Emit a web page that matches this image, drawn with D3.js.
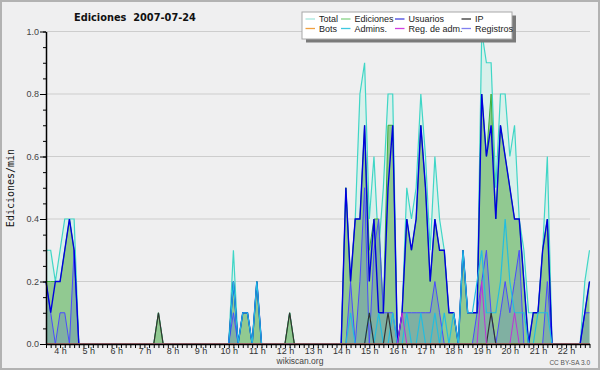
<!DOCTYPE html>
<html>
<head>
<meta charset="utf-8">
<script src="https://d3js.org/d3.v7.min.js"></script>
<style>
  body { margin: 0; background: #efeff0; }
  svg { display: block; }
</style>
</head>
<body>
<div id="chart"></div>
<script>
// Edits per minute in 10 minute bins, first bin at 3:30.
var hourLabels = ["4 h","5 h","6 h","7 h","8 h","9 h","10 h","11 h","12 h","13 h","14 h","15 h","16 h","17 h","18 h","19 h","20 h","21 h","22 h"];
var firstHourBin = 3;
var binsPerHour = 6;

var total = [
  .3,.3,.2,.3,.4,.4,.4,0,0,0,0,0,
  0,0,0,0,0,0,0,0,0,0,0,0,
  .1,0,0,0,0,0,0,0,0,0,0,0,
  0,0,0,0,.3,0,.1,.1,0,.2,0,0,
  0,0,0,0,.1,0,0,0,0,0,0,0,
  0,0,0,0,.5,.2,.4,.8,.9,.4,.6,.3,
  .5,.8,.8,0,.1,.5,.4,.5,.8,.6,.3,.6,
  .4,.3,.1,.1,0,.3,.1,.1,.1,1,.9,.9,
  .5,.8,.8,.6,.7,.4,.3,.1,.1,.1,.3,.6,
  0,0,0,0,0,0,0,.2,.3];
var ediciones = [
  .2,.2,.2,.2,.3,.4,.3,0,0,0,0,0,
  0,0,0,0,0,0,0,0,0,0,0,0,
  .1,0,0,0,0,0,0,0,0,0,0,0,
  0,0,0,0,.2,0,.1,.1,0,.2,0,0,
  0,0,0,0,.1,0,0,0,0,0,0,0,
  0,0,0,0,.5,.2,.4,.4,.7,.3,.4,.4,
  .1,.7,.7,0,.1,.4,.3,.4,.7,.5,.2,.4,
  .3,.3,.1,.1,0,.3,.1,.1,.1,.8,.6,.8,
  .4,.7,.6,.5,.4,.4,.2,0,.1,.1,.3,.4,
  0,0,0,0,0,0,0,.1,.2];
var usuarios = [
  .2,.1,.2,.2,.3,.4,.3,0,0,0,0,0,
  0,0,0,0,0,0,0,0,0,0,0,0,
  0,0,0,0,0,0,0,0,0,0,0,0,
  0,0,0,0,.2,0,.1,.1,0,.2,0,0,
  0,0,0,0,0,0,0,0,0,0,0,0,
  0,0,0,0,.5,.2,.4,.4,.7,.2,.4,.1,
  .1,.5,.7,0,.1,.4,.3,.4,.7,.5,.2,.4,
  .3,.3,.1,.1,0,.3,.1,.1,.1,.8,.6,.7,
  .4,.7,.6,.5,.4,.4,.2,0,.1,.1,.3,.4,
  0,0,0,0,0,0,0,.1,.2];
var ip = [
  0,0,0,0,0,0,0,0,0,0,0,0,
  0,0,0,0,0,0,0,0,0,0,0,0,
  .1,0,0,0,0,0,0,0,0,0,0,0,
  0,0,0,0,0,0,0,0,0,0,0,0,
  0,0,0,0,.1,0,0,0,0,0,0,0,
  0,0,0,0,0,0,0,0,0,.1,0,0,
  0,.1,0,0,0,0,0,0,0,0,0,0,
  0,0,0,0,0,0,0,0,0,0,0,.1,
  0,0,0,0,0,0,0,0,0,0,0,0,
  0,0,0,0,0,0,0,0,0];
var bots = [
  0,0,0,0,0,0,0,0,0,0,0,0,
  0,0,0,0,0,0,0,0,0,0,0,0,
  0,0,0,0,0,0,0,0,0,0,0,0,
  0,0,0,0,0,0,0,0,0,0,0,0,
  0,0,0,0,0,0,0,0,0,0,0,0,
  0,0,0,0,0,0,0,0,0,0,0,0,
  0,0,0,0,0,0,0,0,0,0,0,0,
  0,0,0,0,0,0,0,0,0,0,0,0,
  0,0,0,0,0,0,0,0,0,0,0,0,
  0,0,0,0,0,0,0,0,0];
var admins = [
  0,0,0,0,0,0,0,0,0,0,0,0,
  0,0,0,0,0,0,0,0,0,0,0,0,
  0,0,0,0,0,0,0,0,0,0,0,0,
  0,0,0,0,.2,0,.1,.1,0,.2,0,0,
  0,0,0,0,0,0,0,0,0,0,0,0,
  0,0,0,0,0,.1,0,0,0,.1,0,.1,
  0,0,.1,0,0,.1,0,0,.1,0,0,.1,
  0,.1,0,.1,0,.3,.1,.1,.2,.3,.1,.1,
  .1,.2,.4,.2,.1,.1,.1,0,0,.1,.1,.1,
  0,0,0,0,0,0,0,0,0];
var regAdm = [
  0,0,0,0,0,0,0,0,0,0,0,0,
  0,0,0,0,0,0,0,0,0,0,0,0,
  0,0,0,0,0,0,0,0,0,0,0,0,
  0,0,0,0,0,0,0,0,0,0,0,0,
  0,0,0,0,0,0,0,0,0,0,0,0,
  0,0,0,0,0,0,0,0,0,0,0,0,
  0,0,0,0,.1,0,0,0,0,0,0,0,
  0,0,0,0,0,0,0,0,0,.2,0,0,
  0,0,0,0,.1,0,0,0,0,0,0,0,
  0,0,0,0,0,0,0,0,0];
var registros = [
  .2,.1,0,.1,.1,0,.3,0,0,0,0,0,
  0,0,0,0,0,0,0,0,0,0,0,0,
  0,0,0,0,0,0,0,0,0,0,0,0,
  0,0,0,0,.1,0,0,0,0,0,0,0,
  0,0,0,0,0,0,0,0,0,0,0,0,
  0,0,0,0,0,.2,0,.2,.5,0,.3,.4,
  .1,.1,.1,0,.1,.1,.1,.1,.1,.1,.1,.2,
  .1,0,0,0,0,0,0,0,.1,.2,.3,.1,
  0,.1,.2,.1,.2,.3,0,0,0,0,0,.2,
  0,0,0,0,0,0,0,.1,.1];

var legendNames = ["Total","Ediciones","Usuarios","IP","Bots","Admins.","Reg. de adm.","Registros"];
var legendColors = ["#a6e6de","#86d286","#4545e0","#333333","#f0a040","#40c8e0","#d040e0","#8080f0"];
var yTicks = [0, 0.2, 0.4, 0.6, 0.8, 1.0];

// Set up the width and height of the chart.
var svgWidth = 600;
var svgHeight = 370;
var margin = {top: 31.5, right: 10.5, bottom: 26, left: 46};
var chartWidth = svgWidth - margin.left - margin.right;
var chartHeight = svgHeight - margin.top - margin.bottom;

var svg = d3.select("#chart").append("svg").attr("width", svgWidth).attr("height", svgHeight);
svg.append("rect").attr("x", 1).attr("y", 1).attr("width", svgWidth - 2).attr("height", svgHeight - 2)
  .attr("fill", "#efeff0").attr("stroke", "#b2b2b2").attr("stroke-width", 2);

var chartGroup = svg.append("g").attr("transform", `translate(${margin.left},${margin.top})`);

var xScale = d3.scaleLinear().domain([0, total.length - 1]).range([0, chartWidth]);
var yScale = d3.scaleLinear().domain([0, 1]).range([chartHeight, 0]);

// Horizontal grid lines.
chartGroup.selectAll(".grid").data(yTicks.filter(d => d > 0)).enter().append("line")
  .attr("x1", 0).attr("x2", chartWidth + 0.5)
  .attr("y1", d => yScale(d)).attr("y2", d => yScale(d))
  .attr("stroke", "#cdcdcd").attr("stroke-width", 1);

var area = d3.area().x((d, i) => xScale(i)).y0(yScale(0)).y1(d => yScale(d));
var line = d3.line().x((d, i) => xScale(i)).y(d => yScale(d));

// Filled series first, then the lines on top.
chartGroup.append("path").datum(total).attr("d", area).attr("fill", "#d9f0eb");
chartGroup.append("path").datum(total).attr("d", line).attr("fill", "none").attr("stroke", "#3fd6c6").attr("stroke-width", 1.2);
chartGroup.append("path").datum(ediciones).attr("d", area).attr("fill", "#91c991");
chartGroup.append("path").datum(registros).attr("d", area).attr("fill", "rgba(60,80,230,0.2)");
chartGroup.append("path").datum(ediciones).attr("d", line).attr("fill", "none").attr("stroke", "#3caf3c").attr("stroke-width", 1);
chartGroup.append("path").datum(registros).attr("d", line).attr("fill", "none").attr("stroke", "#4a4aff").attr("stroke-width", 1);
chartGroup.append("path").datum(usuarios).attr("d", line).attr("fill", "none").attr("stroke", "#0000e0").attr("stroke-width", 1.4);
chartGroup.append("path").datum(admins).attr("d", line).attr("fill", "none").attr("stroke", "#22bde0").attr("stroke-width", 1.2);
chartGroup.append("path").datum(ip).attr("d", line).attr("fill", "none").attr("stroke", "#333333").attr("stroke-width", 1.2);
chartGroup.append("path").datum(regAdm).attr("d", line).attr("fill", "none").attr("stroke", "#c030d8").attr("stroke-width", 1);
chartGroup.append("path").datum(bots).attr("d", line).attr("fill", "none").attr("stroke", "#f0a040").attr("stroke-width", 1);

// Left axis with major and minor ticks.
var minorAxis = d3.axisLeft(yScale).tickValues(d3.range(0, 1.001, 0.05)).tickSize(3).tickSizeOuter(0).tickFormat("");
chartGroup.append("g").call(minorAxis).call(g => g.select(".domain").remove())
  .selectAll("line").attr("stroke", "#000");
var leftAxis = d3.axisLeft(yScale).tickValues(yTicks).tickSize(6).tickSizeOuter(0).tickPadding(1).tickFormat(d3.format(".1f"));
var yAxis = chartGroup.append("g").call(leftAxis);
yAxis.select(".domain").attr("stroke", "#000").attr("stroke-width", 1.5);
yAxis.selectAll("text").attr("font-family", "Liberation Sans, Arial, sans-serif").attr("font-size", "9px").attr("fill", "#444");

// Bottom axis: one tick per bin, labels on the hours.
var bottomAxis = d3.axisBottom(xScale).tickValues(d3.range(0, total.length)).tickSize(4).tickSizeOuter(0).tickPadding(0)
  .tickFormat(i => (i - firstHourBin) % binsPerHour === 0 && i >= firstHourBin ? hourLabels[(i - firstHourBin) / binsPerHour] : "");
var xAxis = chartGroup.append("g").attr("transform", `translate(0,${chartHeight})`).call(bottomAxis);
xAxis.select(".domain").attr("stroke", "#000").attr("stroke-width", 1.5);
xAxis.selectAll("line").attr("stroke", "#000");
xAxis.selectAll("text").attr("font-family", "Liberation Sans, Arial, sans-serif").attr("font-size", "9px").attr("fill", "#333");

// Titles and captions.
svg.append("text").attr("x", 74).attr("y", 21).style("white-space", "pre")
  .attr("font-family", "DejaVu Sans, sans-serif").attr("font-weight", "bold").attr("font-size", "9.8px").attr("fill", "#111")
  .text("Ediciones  2007-07-24");

svg.append("text").attr("transform", "translate(14,188) rotate(-90)").attr("text-anchor", "middle")
  .attr("font-family", "DejaVu Sans Mono, monospace").attr("font-size", "10px").attr("fill", "#111")
  .text("Ediciones/min");

svg.append("text").attr("x", 300).attr("y", 364).attr("text-anchor", "middle")
  .attr("font-family", "Liberation Sans, Arial, sans-serif").attr("font-size", "8.5px").attr("fill", "#444")
  .text("wikiscan.org");

svg.append("text").attr("x", 590).attr("y", 365).attr("text-anchor", "end")
  .attr("font-family", "Liberation Sans, Arial, sans-serif").attr("font-size", "6.5px").attr("fill", "#555")
  .text("CC BY-SA 3.0");

// Legend box with shadow.
var legend = svg.append("g");
legend.append("rect").attr("x", 306).attr("y", 15.5).attr("width", 210).attr("height", 27).attr("fill", "#7a7a7a");
legend.append("rect").attr("x", 302).attr("y", 12).attr("width", 210).attr("height", 27)
  .attr("fill", "#fff").attr("stroke", "#a8a8a8").attr("stroke-width", 1);

var legendLineX = [305.5, 341, 395, 461.5];
var legendRowY = [19, 28.5];
var legendItem = legend.selectAll(".item").data(legendNames).enter().append("g")
  .attr("transform", (d, k) => `translate(${legendLineX[k % 4]},${legendRowY[Math.floor(k / 4)]})`);
legendItem.append("line").attr("x1", 0).attr("x2", 9.5).attr("y1", 0).attr("y2", 0)
  .attr("stroke", (d, k) => legendColors[k]).attr("stroke-width", 1.3);
legendItem.append("text").attr("x", 13.5).attr("y", 3.2)
  .attr("font-family", "Liberation Sans, Arial, sans-serif").attr("font-size", "9px").attr("fill", "#222")
  .text(d => d);
</script>
</body>
</html>
